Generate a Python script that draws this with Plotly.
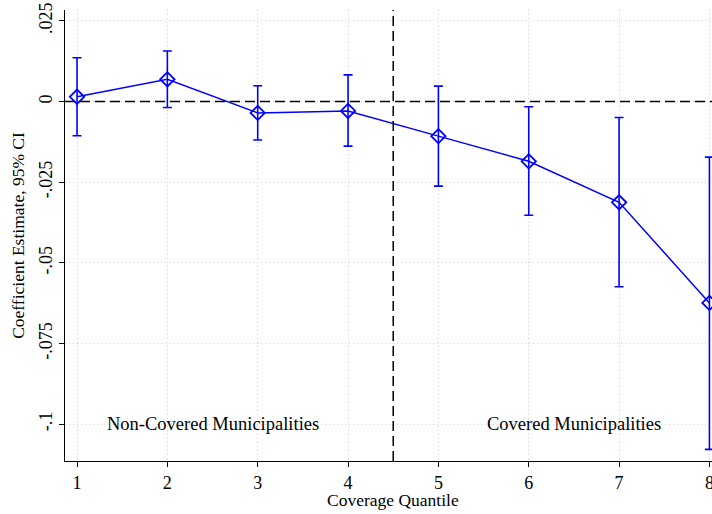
import plotly.graph_objects as go

# coverage quantiles and estimates
quantile = [1, 2, 3, 4, 5, 6, 7, 8]
coef = [0.0015, 0.0069, -0.0035, -0.0029, -0.0107, -0.0185, -0.0312, -0.0624]
ci_hi = [0.0136, 0.0157, 0.0049, 0.0083, 0.0048, -0.0016, -0.0049, -0.0172]
ci_lo = [-0.0106, -0.0018, -0.0119, -0.0138, -0.0262, -0.0352, -0.0574, -0.1078]

y_ticks = [0.025, 0, -0.025, -0.05, -0.075, -0.1]
y_labels = ['.025', '0', '-.025', '-.05', '-.075', '-.1']

err_plus = [h - c for h, c in zip(ci_hi, coef)]
err_minus = [c - l for c, l in zip(coef, ci_lo)]

blue = '#0000ff'
font = 'Liberation Serif'

fig = go.Figure()
fig.add_trace(go.Scatter(
    x=quantile, y=coef,
    mode='lines+markers',
    line=dict(color=blue, width=1.5),
    marker=dict(symbol='diamond-open', size=11, color=blue, line=dict(width=1.8)),
    error_y=dict(type='data', symmetric=False, array=err_plus, arrayminus=err_minus,
                 color=blue, thickness=1.6, width=4.5),
    showlegend=False,
    cliponaxis=False,
))

# reference lines at zero and between quantiles 4 and 5
fig.add_hline(y=0, line=dict(color='black', dash='10px,5px', width=1.5), layer='above')
fig.add_vline(x=4.5, line=dict(color='black', dash='10px,5px', width=1.5), layer='above')

fig.add_annotation(x=2.5, y=-0.1, text='Non-Covered Municipalities', showarrow=False,
                   font=dict(family=font, size=18.5, color='black'))
fig.add_annotation(x=6.5, y=-0.1, text='Covered Municipalities', showarrow=False,
                   font=dict(family=font, size=18.5, color='black'))
fig.add_annotation(x=4.5, y=-0.087, xref='x', yref='paper', yanchor='middle',
                   text='Coverage Quantile', showarrow=False,
                   font=dict(family=font, size=17.5, color='black'))

# figure is a bit wider than the window so the right edge gets cropped like the original
fig.update_layout(
    width=730, height=514,
    margin=dict(l=65, r=10, t=10, b=53),
    plot_bgcolor='white', paper_bgcolor='white',
    font=dict(family=font, size=17, color='black'),
    xaxis=dict(
        range=[0.867, 8.117], tickvals=quantile,
        showline=True, linecolor='black', linewidth=1.2,
        ticks='outside', ticklen=5, tickcolor='black',
        showgrid=True, gridcolor='#cfcfcf', griddash='1px,3px', gridwidth=1,
        zeroline=False, tickfont=dict(size=18),
    ),
    yaxis=dict(
        range=[-0.1114, 0.0284], tickvals=y_ticks, ticktext=y_labels,
        tickangle=-90,
        showline=True, linecolor='black', linewidth=1.2,
        ticks='outside', ticklen=5, tickcolor='black',
        showgrid=True, gridcolor='#cfcfcf', griddash='1px,3px', gridwidth=1,
        zeroline=False, tickfont=dict(size=18),
        title=dict(text='Coefficient Estimate, 95% CI', font=dict(size=17.5), standoff=6),
        automargin=False,
    ),
)

fig.write_html("out.html", config={'displayModeBar': False},
               post_script="document.body.style.margin='0'; document.body.style.overflow='hidden';")
